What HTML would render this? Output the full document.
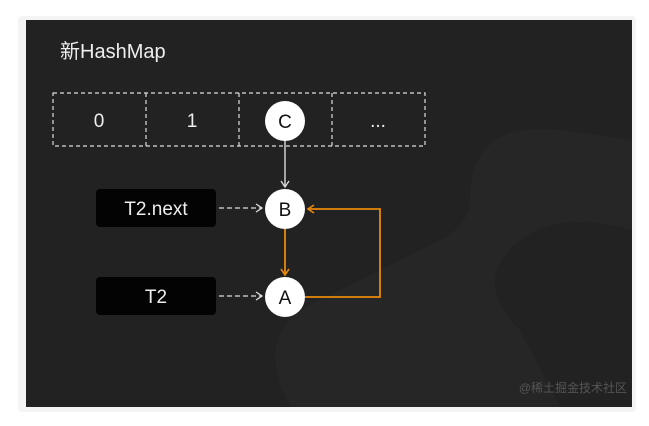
<!DOCTYPE html>
<html><head><meta charset="utf-8"><style>
html,body{margin:0;padding:0;background:#fff;width:649px;height:426px;overflow:hidden}
</style></head><body>
<svg width="649" height="426" viewBox="0 0 649 426" font-family="'Liberation Sans','Noto Sans CJK SC',sans-serif">
<defs>
<marker id="aw" markerWidth="10" markerHeight="10" refX="8" refY="5" orient="auto" markerUnits="userSpaceOnUse"><path d="M2,1 L8,5 L2,9" fill="none" stroke="#ddd" stroke-width="1.3"/></marker>
<marker id="ao" markerWidth="10" markerHeight="10" refX="8" refY="5" orient="auto" markerUnits="userSpaceOnUse"><path d="M2,1 L8,5 L2,9" fill="none" stroke="#e8890c" stroke-width="1.6"/></marker>
</defs>
<rect x="18" y="16" width="618" height="396" fill="#f4f4f4" rx="4"/>
<rect x="26" y="20" width="606" height="387" fill="#222222"/>
<path d="M470 200 Q470 120 560 130 L632 140 L632 230 Q560 210 520 240 Q470 280 520 330 L560 407 L290 407 Q250 330 320 300 Q380 270 420 250 Q470 230 470 200Z" fill="#262626"/>
<text x="60" y="58" font-size="20" fill="#eee">新HashMap</text>
<g stroke="#ddd" stroke-width="1.2" stroke-dasharray="4,3" fill="none">
<rect x="53" y="93" width="372" height="53"/>
<line x1="146" y1="93" x2="146" y2="146"/><line x1="239" y1="93" x2="239" y2="146"/><line x1="332" y1="93" x2="332" y2="146"/>
</g>
<g font-size="19" fill="#eee" text-anchor="middle">
<text x="99" y="127">0</text>
<text x="192" y="127">1</text>
<text x="378" y="127">...</text>
</g>
<line x1="285" y1="141" x2="285" y2="187" stroke="#ddd" stroke-width="1.4" marker-end="url(#aw)"/>
<rect x="96" y="189" width="120" height="38" rx="4" fill="#030303"/>
<rect x="96" y="277" width="120" height="38" rx="4" fill="#030303"/>
<text x="156" y="215" font-size="19" fill="#eee" text-anchor="middle">T2.next</text>
<text x="156" y="303" font-size="19" fill="#eee" text-anchor="middle">T2</text>
<line x1="219" y1="208" x2="262" y2="208" stroke="#ddd" stroke-width="1.3" stroke-dasharray="5,3" marker-end="url(#aw)"/>
<line x1="219" y1="296" x2="262" y2="296" stroke="#ddd" stroke-width="1.3" stroke-dasharray="5,3" marker-end="url(#aw)"/>
<line x1="285" y1="229" x2="285" y2="275" stroke="#e8890c" stroke-width="1.8" marker-end="url(#ao)"/>
<polyline points="305,297 380,297 380,209 308,209" fill="none" stroke="#e8890c" stroke-width="1.8" marker-end="url(#ao)"/>
<g fill="#fff">
<circle cx="285" cy="121" r="20"/>
<circle cx="285" cy="209" r="20"/>
<circle cx="285" cy="297" r="20"/>
</g>
<g font-size="19" fill="#111" text-anchor="middle">
<text x="285" y="128">C</text><text x="285" y="216">B</text><text x="285" y="304">A</text>
</g>
<text x="627" y="392" font-size="12" fill="#555" text-anchor="end">@稀土掘金技术社区</text>
</svg>
</body></html>
